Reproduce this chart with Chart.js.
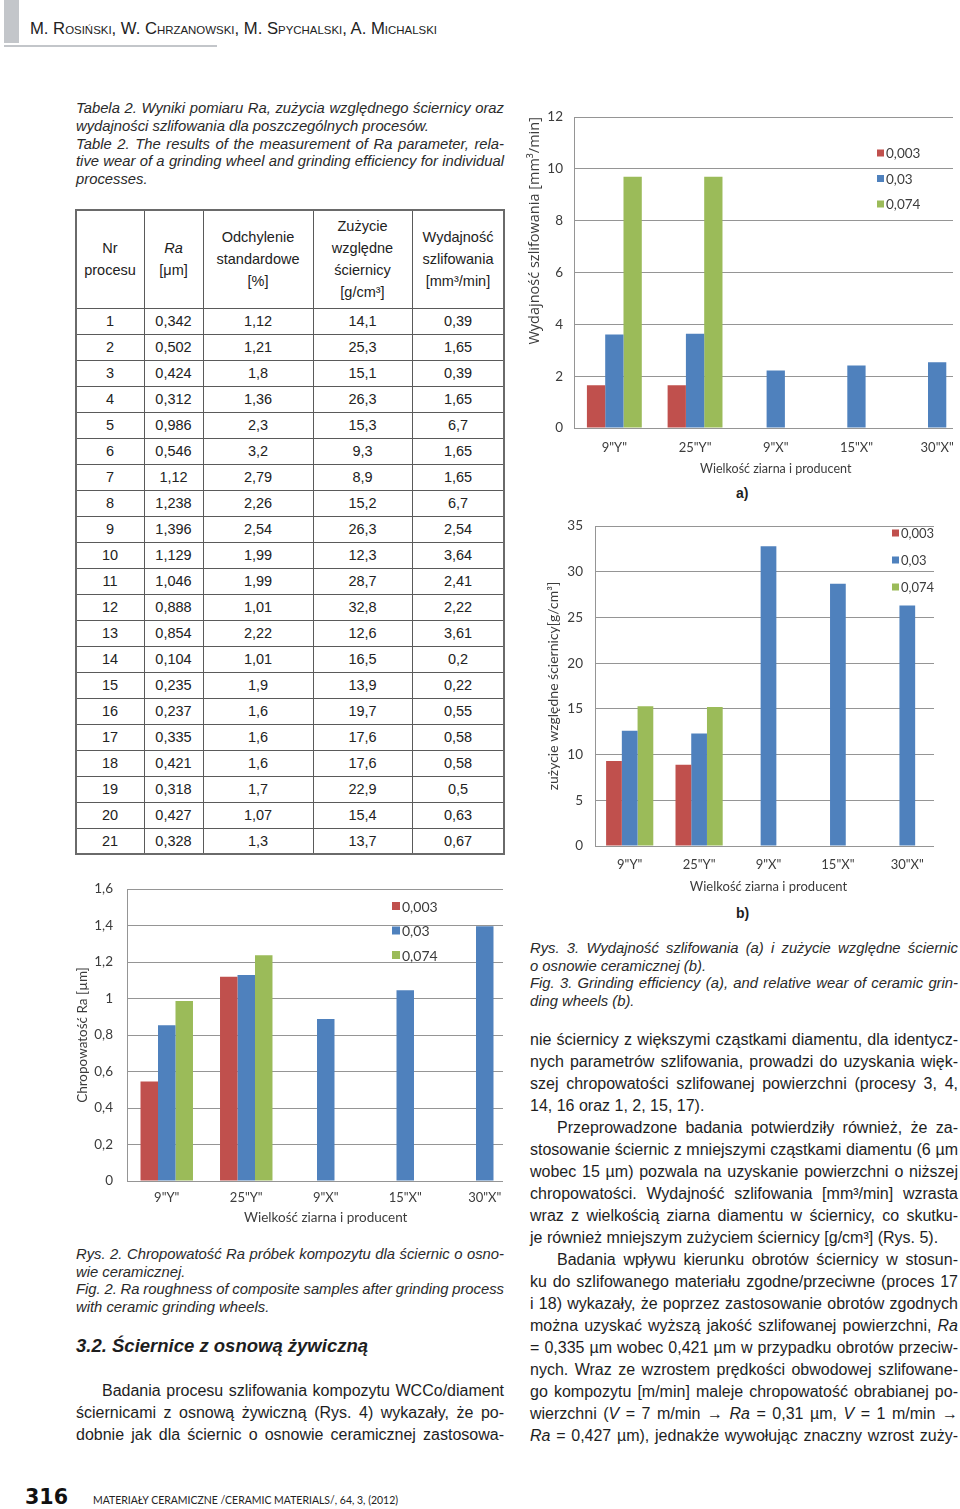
<!DOCTYPE html>
<html lang="pl">
<head>
<meta charset="utf-8">
<title>Rys. 2, Rys. 3</title>
<script src="https://cdn.jsdelivr.net/npm/chart.js@4.4.1/dist/chart.umd.min.js"></script>
<style>
  html, body { margin: 0; padding: 0; background: #fff; }
  body { width: 960px; height: 1509px; position: relative; overflow: hidden;
         font-family: "Liberation Sans", Arial, sans-serif; color: #1e1e1e; }
  .ln { position: absolute; white-space: nowrap; }
  .cap { font-style: italic; font-size: 14.8px; line-height: 18px; color: #2a2a2a; }
  .txt { font-size: 16px; line-height: 22px; }
  .box { position: absolute; overflow: hidden; }
  .rule { position: absolute; background: #5a5a5a; }
  .cell { position: absolute; display: flex; align-items: center; justify-content: center;
          text-align: center; font-size: 14.5px; line-height: 22px; color: #222; }
  .sub { position: absolute; font-weight: bold; font-size: 14px; }
</style>
</head>
<body>

<div style="position:absolute;left:4px;top:0;width:15px;height:43px;background:#c3c6ca"></div>
<div style="position:absolute;left:4px;top:45px;width:213px;height:2px;background:#c3c6ca"></div>
<div id="head" class="ln" style="left:30px;top:19px;font-size:16px;line-height:20px;font-variant:small-caps;color:#222">M. Rosiński, W. Chrzanowski, M. Spychalski, A. Michalski</div>

<div class="box" style="left:525px;top:98px;width:428px;height:380px"><canvas id="effChart" width="456" height="378"></canvas></div>
<div class="sub" style="left:736px;top:485px">a)</div>

<div class="box" style="left:540px;top:506px;width:394px;height:390px"><canvas id="wearChart" width="404" height="389"></canvas></div>
<div class="sub" style="left:736px;top:905px">b)</div>

<div class="box" style="left:70px;top:867px;width:433px;height:360px"><canvas id="raChart" width="457" height="359"></canvas></div>

<div id="page-num" class="ln" style="left:25px;top:1484px;font-family:'DejaVu Sans';font-weight:bold;font-size:22px;line-height:26px;color:#111">316</div>
<div id="foot" class="ln" style="left:93px;top:1493px;font-family:Lato,sans-serif;font-size:11.5px;line-height:14px;color:#222">MATERIAŁY CERAMICZNE /CERAMIC MATERIALS/, 64, 3, (2012)</div>

<script>
// ---- chart data ----
const categories = ['9"Y"', '25"Y"', '9"X"', '15"X"', '30"X"'];
const seriesLabels = ['0,003', '0,03', '0,074'];
const seriesColors = ['#C0504D', '#4F81BD', '#9BBB59'];

// Rys. 2 - chropowatosc Ra [um]
const raRed = [0.546, 1.12, null, null, null];
const raBlue = [0.854, 1.129, 0.888, 1.046, 1.396];
const raGreen = [0.986, 1.238, null, null, null];

// Rys. 3a - wydajnosc szlifowania [mm3/min]
const effRed = [1.65, 1.65, null, null, null];
const effBlue = [3.61, 3.64, 2.22, 2.41, 2.54];
const effGreen = [9.7, 9.7, null, null, null];

// Rys. 3b - zuzycie wzgledne sciernicy [g/cm3]
const wearRed = [9.3, 8.9, null, null, null];
const wearBlue = [12.6, 12.3, 32.8, 28.7, 26.3];
const wearGreen = [15.3, 15.2, null, null, null];

// ---- table 2 ----
const procNo = ['1','2','3','4','5','6','7','8','9','10','11','12','13','14','15','16','17','18','19','20','21'];
const raCol = ['0,342','0,502','0,424','0,312','0,986','0,546','1,12','1,238','1,396','1,129','1,046','0,888','0,854','0,104','0,235','0,237','0,335','0,421','0,318','0,427','0,328'];
const sdCol = ['1,12','1,21','1,8','1,36','2,3','3,2','2,79','2,26','2,54','1,99','1,99','1,01','2,22','1,01','1,9','1,6','1,6','1,6','1,7','1,07','1,3'];
const wearCol = ['14,1','25,3','15,1','26,3','15,3','9,3','8,9','15,2','26,3','12,3','28,7','32,8','12,6','16,5','13,9','19,7','17,6','17,6','22,9','15,4','13,7'];
const effCol = ['0,39','1,65','0,39','1,65','6,7','1,65','1,65','6,7','2,54','3,64','2,41','2,22','3,61','0,2','0,22','0,55','0,58','0,58','0,5','0,63','0,67'];
const headCells = [
  'Nr<br>procesu',
  '<i>Ra</i><br>[μm]',
  'Odchylenie<br>standardowe<br>[%]',
  'Zużycie<br>względne<br>ściernicy<br>[g/cm³]',
  'Wydajność<br>szlifowania<br>[mm³/min]'
];

const colX = [76, 144, 203, 313, 412, 504];
const headTop = 210, headBottom = 308, rowH = 26;

function rule(x, y, w, h, c) {
  const d = document.createElement('div');
  d.className = 'rule';
  d.style.cssText = `left:${x}px;top:${y}px;width:${w}px;height:${h}px` + (c ? `;background:${c}` : '');
  document.body.appendChild(d);
}
function cell(x0, x1, y0, y1, html) {
  const d = document.createElement('div');
  d.className = 'cell';
  d.style.cssText = `left:${x0}px;top:${y0}px;width:${x1 - x0}px;height:${y1 - y0}px`;
  d.innerHTML = '<div>' + html + '</div>';
  document.body.appendChild(d);
}

const cols = [procNo, raCol, sdCol, wearCol, effCol];
const tableBottom = headBottom + procNo.length * rowH;
headCells.forEach((h, c) => cell(colX[c], colX[c + 1], headTop, headBottom, h));
cols.forEach((col, c) => col.forEach((v, r) => {
  cell(colX[c], colX[c + 1], headBottom + r * rowH, headBottom + (r + 1) * rowH, v);
}));
for (let r = 1; r <= procNo.length; r++) rule(colX[0], headBottom + (r - 1) * rowH - 0.5, colX[5] - colX[0], 1.5);
for (let c = 1; c < 5; c++) rule(colX[c] - 0.5, headTop, 1.5, tableBottom - headTop);
rule(colX[0] - 1, headTop - 1, colX[5] - colX[0] + 2, 2, '#6a6a6a');
rule(colX[0] - 1, tableBottom - 1, colX[5] - colX[0] + 2, 2, '#6a6a6a');
rule(colX[0] - 1, headTop - 1, 2, tableBottom - headTop + 2, '#6a6a6a');
rule(colX[5] - 1, headTop - 1, 2, tableBottom - headTop + 2, '#6a6a6a');

// ---- text ----
function justify(d) {
  const s = d.firstChild;
  const w = s.getBoundingClientRect().width;
  const n = (s.textContent.match(/ /g) || []).length;
  if (n) s.style.wordSpacing = ((parseFloat(d.style.width) - w) / n) + 'px';
}
function addLines(x, y0, step, width, cls, lh, arr) {
  arr.forEach((l, i) => {
    const d = document.createElement('div');
    const ind = l.i || 0;
    d.className = 'ln ' + cls;
    d.style.left = (x + ind) + 'px';
    d.style.width = (width - ind) + 'px';
    d.style.top = (y0 + i * step - lh / 2 - 1) + 'px';
    d.innerHTML = '<span>' + l.t + '</span>';
    document.body.appendChild(d);
    if (l.j) justify(d);
  });
}

addLines(76, 109, 17.75, 428, 'cap', 18, [
  { t: 'Tabela 2. Wyniki pomiaru Ra, zużycia względnego ściernicy oraz', j: true },
  { t: 'wydajności szlifowania dla poszczególnych procesów.' },
  { t: 'Table 2. The results of the measurement of Ra parameter, rela-', j: true },
  { t: 'tive wear of a grinding wheel and grinding efficiency for individual', j: true },
  { t: 'processes.' }
]);
addLines(530, 949, 17.7, 428, 'cap', 18, [
  { t: 'Rys. 3. Wydajność szlifowania (a) i zużycie względne ściernic', j: true },
  { t: 'o osnowie ceramicznej (b).' },
  { t: 'Fig. 3. Grinding efficiency (a), and relative wear of ceramic grin-', j: true },
  { t: 'ding wheels (b).' }
]);
addLines(76, 1255, 17.7, 428, 'cap', 18, [
  { t: 'Rys. 2. Chropowatość Ra próbek kompozytu dla ściernic o osno-', j: true },
  { t: 'wie ceramicznej.' },
  { t: 'Fig. 2. Ra roughness of composite samples after grinding process', j: true },
  { t: 'with ceramic grinding wheels.' }
]);
addLines(530, 1041, 22, 428, 'txt', 22, [
  { t: 'nie ściernicy z większymi cząstkami diamentu, dla identycz-', j: true },
  { t: 'nych parametrów szlifowania, prowadzi do uzyskania więk-', j: true },
  { t: 'szej chropowatości szlifowanej powierzchni (procesy 3, 4,', j: true },
  { t: '14, 16 oraz 1, 2, 15, 17).' },
  { t: 'Przeprowadzone badania potwierdziły również, że za-', j: true, i: 27 },
  { t: 'stosowanie ściernic z mniejszymi cząstkami diamentu (6 µm', j: true },
  { t: 'wobec 15 µm) pozwala na uzyskanie powierzchni o niższej', j: true },
  { t: 'chropowatości. Wydajność szlifowania [mm³/min] wzrasta', j: true },
  { t: 'wraz z wielkością ziarna diamentu w ściernicy, co skutku-', j: true },
  { t: 'je również mniejszym zużyciem ściernicy [g/cm³] (Rys. 5).' },
  { t: 'Badania wpływu kierunku obrotów ściernicy w stosun-', j: true, i: 27 },
  { t: 'ku do szlifowanego materiału zgodne/przeciwne (proces 17', j: true },
  { t: 'i 18) wykazały, że poprzez zastosowanie obrotów zgodnych', j: true },
  { t: 'można uzyskać wyższą jakość szlifowanej powierzchni, <i>Ra</i>', j: true },
  { t: '= 0,335 µm wobec 0,421 µm w przypadku obrotów przeciw-', j: true },
  { t: 'nych. Wraz ze wzrostem prędkości obwodowej szlifowane-', j: true },
  { t: 'go kompozytu [m/min] maleje chropowatość obrabianej po-', j: true },
  { t: 'wierzchni (<i>V</i> = 7 m/min → <i>Ra</i> = 0,31 µm, <i>V</i> = 1 m/min →', j: true },
  { t: '<i>Ra</i> = 0,427 µm), jednakże wywołując znaczny wzrost zuży-', j: true }
]);
addLines(76, 1392, 22, 428, 'txt', 22, [
  { t: 'Badania procesu szlifowania kompozytu WCCo/diament', j: true, i: 26 },
  { t: 'ściernicami z osnową żywiczną (Rys. 4) wykazały, że po-', j: true },
  { t: 'dobnie jak dla ściernic o osnowie ceramicznej zastosowa-', j: true }
]);
addLines(76, 1348, 22, 428, '', 24, [
  { t: '<b style="font-style:italic;font-size:18.5px">3.2. Ściernice z osnową żywiczną</b>' }
]);

function fit(el, w) {
  const r = w / el.getBoundingClientRect().width;
  el.style.transformOrigin = 'left center';
  el.style.transform = `scaleX(${r})`;
}
fit(document.getElementById('head'), 407);
fit(document.getElementById('page-num'), 43);
fit(document.getElementById('foot'), 305);

// ---- charts ----
const textColor = '#3c3c3c';
const gridColor = '#959595';
const chartFont = 'Lato, "Open Sans", sans-serif';

const insideLegend = {
  id: 'insideLegend',
  afterDraw(chart, args, opts) {
    const ctx = chart.ctx;
    ctx.save();
    ctx.font = `${opts.size}px ${chartFont}`;
    ctx.textBaseline = 'middle';
    ctx.textAlign = 'left';
    chart.data.datasets.forEach((ds, i) => {
      const y = opts.y + i * opts.gap;
      ctx.fillStyle = ds.backgroundColor;
      ctx.fillRect(opts.x, y - opts.box / 2, opts.box, opts.box);
      ctx.fillStyle = textColor;
      ctx.fillText(ds.label, opts.x + opts.box + 2, y + 1);
    });
    ctx.restore();
  }
};

function fmt(v) {
  return String(Math.round(v * 10) / 10).replace('.', ',');
}

function barChart(id, series, c) {
  return new Chart(document.getElementById(id), {
    type: 'bar',
    data: {
      labels: categories,
      datasets: series.map((d, i) => ({
        label: seriesLabels[i],
        data: d,
        backgroundColor: seriesColors[i],
        borderWidth: 0,
        categoryPercentage: c.catPct,
        barPercentage: 1
      }))
    },
    options: {
      responsive: false,
      animation: false,
      devicePixelRatio: 1,
      layout: { padding: c.pad },
      plugins: {
        legend: { display: false },
        tooltip: { enabled: false },
        insideLegend: c.legend
      },
      scales: {
        x: {
          grid: { display: false, drawTicks: false },
          border: { display: true, color: gridColor },
          ticks: { color: textColor, font: { family: chartFont, size: c.xFont }, padding: c.xPad, maxRotation: 0, autoSkip: false },
          title: { display: true, text: 'Wielkość ziarna i producent', color: textColor,
                   font: { family: chartFont, size: c.xTitleFont }, padding: 0 },
          afterFit: s => { s.height = c.xh; }
        },
        y: {
          min: 0,
          max: c.max,
          ticks: { stepSize: c.step, color: textColor, font: { family: chartFont, size: c.yFont }, padding: c.yPad, callback: fmt },
          grid: { color: gridColor, drawTicks: false, lineWidth: 1 },
          border: { display: true, color: gridColor },
          title: { display: true, text: c.yTitle, color: textColor, align: c.yAlign || 'center',
                   font: { family: c.yTitleFamily || chartFont, size: c.yTitleFont }, padding: { top: c.yTitlePad, bottom: 0 } },
          afterFit: s => { s.width = c.yw; }
        }
      }
    },
    plugins: [insideLegend]
  });
}

barChart('effChart', [effRed, effBlue, effGreen], {
  catPct: 0.68, pad: { left: 0, top: 0, right: 3.5, bottom: 0 },
  xh: 48, yw: 49, max: 12, step: 2,
  xFont: 13, xPad: 12, xTitleFont: 12.5, yFont: 13.5, yPad: 11,
  yTitle: 'Wydajność szlifowania [mm³/min]', yTitleFont: 14.5, yTitlePad: 1, yAlign: 'end',
  yTitleFamily: '"Open Sans", sans-serif',
  legend: { x: 352, y: 55, gap: 25.5, box: 7, size: 13.5 }
});

barChart('wearChart', [wearRed, wearBlue, wearGreen], {
  catPct: 0.68, pad: { left: 0, top: 0, right: 2, bottom: 0 },
  xh: 49, yw: 55, max: 35, step: 5,
  xFont: 13, xPad: 11, xTitleFont: 13, yFont: 13.5, yPad: 12,
  yTitle: 'zużycie względne ściernicy[g/cm³]', yTitleFont: 14, yTitlePad: 5,
  legend: { x: 352, y: 27, gap: 27, box: 7, size: 13 }
});

barChart('raChart', [raRed, raBlue, raGreen], {
  catPct: 0.66, pad: { left: 0, top: 0, right: 2.5, bottom: 0 },
  xh: 45, yw: 57, max: 1.6, step: 0.2,
  xFont: 13, xPad: 9, xTitleFont: 13.5, yFont: 13.5, yPad: 14,
  yTitle: 'Chropowatość Ra [µm]', yTitleFont: 13.5, yTitlePad: 5,
  legend: { x: 322, y: 39, gap: 24.5, box: 8, size: 14 }
});
</script>
</body>
</html>
